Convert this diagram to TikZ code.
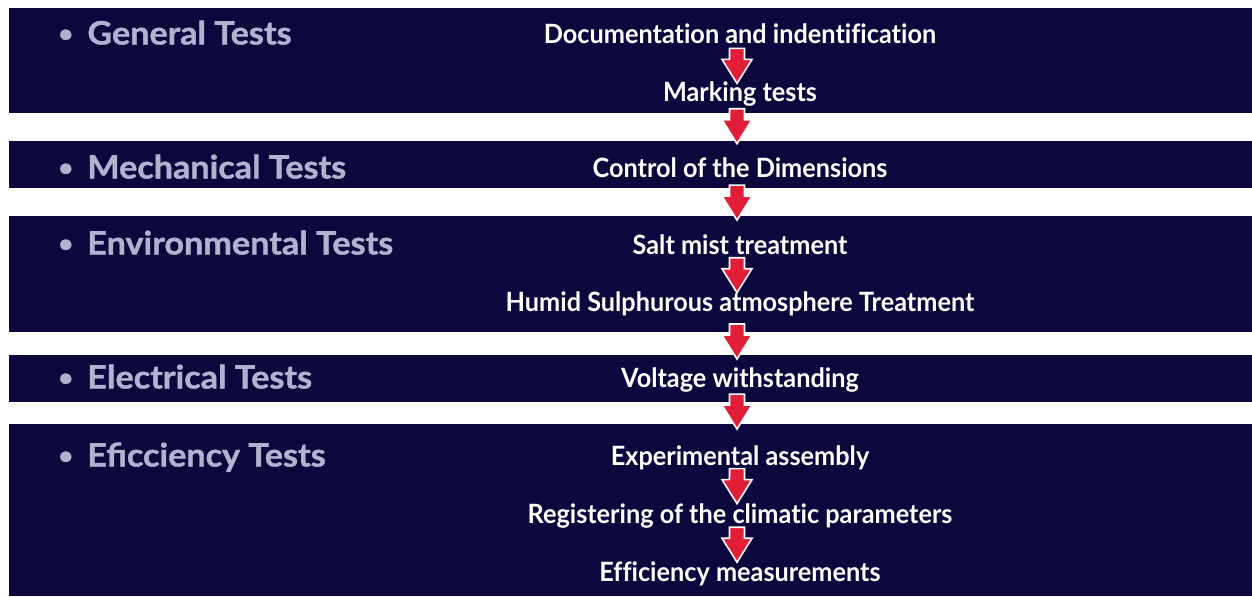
\documentclass[tikz,border=0pt]{standalone}
\usepackage{fontspec}
\setmainfont{Lato}
\newfontfamily\headfont{Lato}[FakeStretch=1.06, FakeBold=1.2]
\newfontfamily\stepfont{Lato}[FakeStretch=0.95, Ligatures=NoCommon]
\usetikzlibrary{calc}
\definecolor{navy}{RGB}{12,7,60}
\definecolor{lilac}{RGB}{180,176,208}
\definecolor{arrowred}{RGB}{226,29,55}
\newcommand{\groupdot}{\makebox[14.5pt][l]{\raisebox{1.3pt}{\fontsize{12}{12}\selectfont•}}}
\begin{document}
\begin{tikzpicture}[x = 0.5pt, y = -0.5pt]
\tikzstyle{BandStyle}=[fill = navy]
\tikzstyle{GroupStyle}=[anchor = west, inner sep = 0pt,
                         text height = 11.5pt, text depth = 0pt,
                         text = lilac, font = \headfont\fontsize{16.1}{19}\selectfont\bfseries]
\tikzstyle{StepStyle}=[inner sep = 0pt, text height = 9.5pt, text depth = 0pt,
                        text = white, font = \stepfont\fontsize{13.3}{16}\selectfont\bfseries]
\tikzstyle{ArrowStyle}=[fill = arrowred, draw = white, line width = 0.8pt]
\tikzset{downarrow/.pic = {
  \filldraw[ArrowStyle] (-7.5,-17.5) -- (7.5,-17.5) -- (7.5,-6.5) -- (15,-6.5)
    -- (0,17.5) -- (-15,-6.5) -- (-7.5,-6.5) -- cycle;}}
\useasboundingbox (0,0) rectangle (1252,596);
\fill[BandStyle] (9,8) rectangle (1252,113);
\fill[BandStyle] (9,141) rectangle (1252,188);
\fill[BandStyle] (9,216) rectangle (1252,332);
\fill[BandStyle] (9,355) rectangle (1252,402);
\fill[BandStyle] (9,424) rectangle (1252,596);
\node[GroupStyle] (g1) at (58,33) {\groupdot General Tests};
\node[GroupStyle] (g2) at (58,167) {\groupdot Mechanical Tests};
\node[GroupStyle] (g3) at (58,243) {\groupdot Environmental Tests};
\node[GroupStyle] (g4) at (58,377) {\groupdot Electrical Tests};
\node[GroupStyle] (g5) at (58,455) {\groupdot Eficciency Tests};
\node[StepStyle] (s1) at (740,34) {Documentation and indentification};
\node[StepStyle] (s2) at (740,92) {Marking tests};
\node[StepStyle] (s3) at (740,168) {Control of the Dimensions};
\node[StepStyle] (s4) at (740,245) {Salt mist treatment};
\node[StepStyle] (s5) at (740,302) {Humid Sulphurous atmosphere Treatment};
\node[StepStyle] (s6) at (740,378) {Voltage withstanding};
\node[StepStyle] (s7) at (740,456) {Experimental assembly};
\node[StepStyle] (s8) at (740,514) {Registering of the climatic parameters};
\node[StepStyle] (s9) at (740,572) {Efficiency measurements};
% arrows between the steps
\foreach \a/\b/\p in {s1/s2/0.55, s2/s3/0.45, s3/s4/0.45, s4/s5/0.53,
                      s5/s6/0.52, s6/s7/0.43, s7/s8/0.52, s8/s9/0.53}
  \pic at ($(\a.center)!\p!(\b.center) + (-3,0)$) {downarrow};
\end{tikzpicture}
\end{document}
